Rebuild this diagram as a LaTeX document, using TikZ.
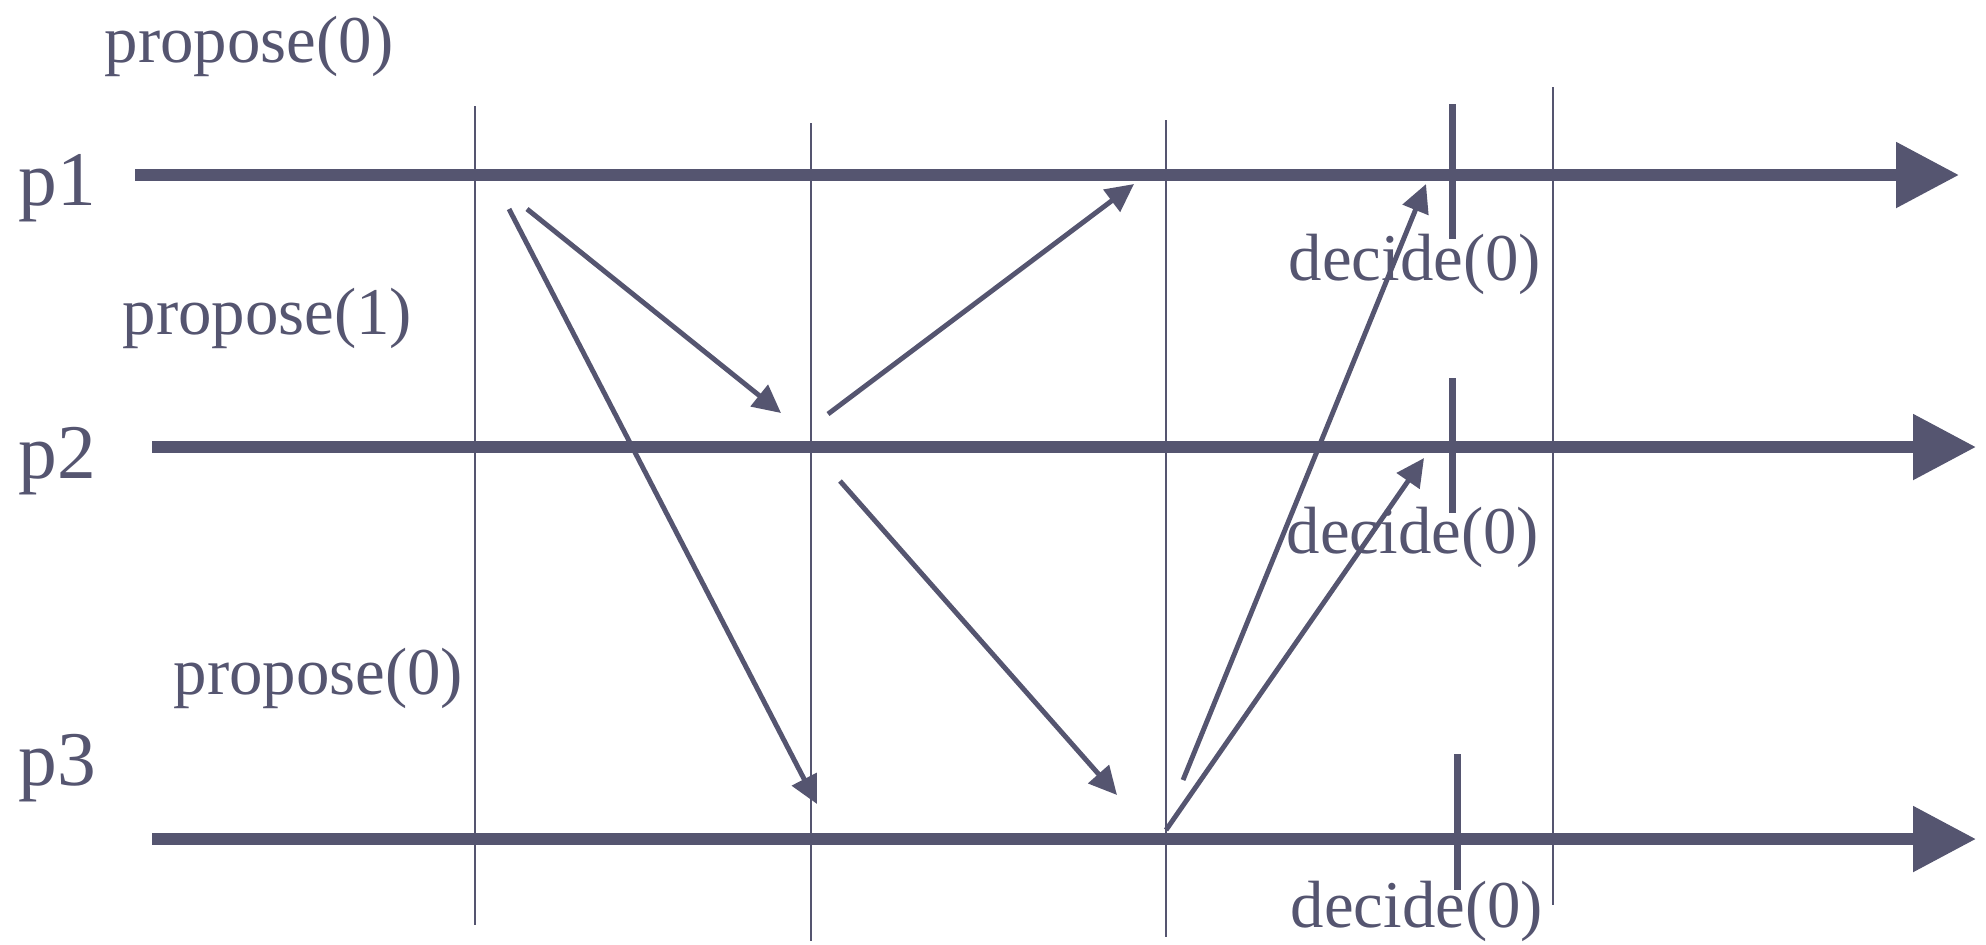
\documentclass[tikz,border=0pt]{standalone}
\usepackage{fontspec}
\setmainfont{Liberation Serif}
\usetikzlibrary{arrows.meta}
\definecolor{ink}{RGB}{85,85,112}

\begin{document}
\begin{tikzpicture}[x=0.01cm, y=-0.01cm, color=ink,
		every node/.style={inner sep=0pt, text=ink, font=\fontsize{22}{26}\selectfont},
		proc/.style={line width=3.4pt, -{Triangle[length=0.63cm, width=0.63cm]}},
		msg/.style={line width=1.4pt, -{Triangle[length=0.28cm, width=0.27cm]}},
		phase/.style={line width=0.6pt},
		dec/.style={line width=2pt},
		lbl/.style={anchor=base west, font=\fontsize{19}{23}\selectfont}]
	\useasboundingbox (0,0) rectangle (1986,944);
	
	% 进程时间轴
	\coordinate (s1) at (135,175);  \coordinate (e1) at (1959,175);
	\coordinate (s2) at (152,447);  \coordinate (e2) at (1976,447);
	\coordinate (s3) at (152,839);  \coordinate (e3) at (1976,839);
	\draw[proc] (s1) -- (e1);
	\draw[proc] (s2) -- (e2);
	\draw[proc] (s3) -- (e3);
	\node[anchor=base west] (p1) at (18,205) {p1};
	\node[anchor=base west] (p2) at (18,478) {p2};
	\node[anchor=base west] (p3) at (18,785) {p3};
	
	% 轮次分界线
	\coordinate (r1t) at (475,106);  \coordinate (r1b) at (475,925);
	\coordinate (r2t) at (811,123);  \coordinate (r2b) at (811,941);
	\coordinate (r3t) at (1166,120); \coordinate (r3b) at (1166,937);
	\coordinate (r4t) at (1553,87);  \coordinate (r4b) at (1553,905);
	\draw[phase] (r1t) -- (r1b);
	\draw[phase] (r2t) -- (r2b);
	\draw[phase] (r3t) -- (r3b);
	\draw[phase] (r4t) -- (r4b);
	
	% 提议
	\node[lbl] (prop1) at (104,62) {propose(0)};
	\node[lbl] (prop2) at (122,334) {propose(1)};
	\node[lbl] (prop3) at (173,694) {propose(0)};
	
	% 消息
	\coordinate (m1a) at (509,209);  \coordinate (m1b) at (817,804);
	\coordinate (m2a) at (527,209);  \coordinate (m2b) at (781,413);
	\coordinate (m3a) at (828,414);  \coordinate (m3b) at (1134,184);
	\coordinate (m4a) at (840,481);  \coordinate (m4b) at (1117,795);
	\coordinate (m5a) at (1183,780); \coordinate (m5b) at (1426,184);
	\coordinate (m6a) at (1166,830); \coordinate (m6b) at (1424,458);
	\draw[msg] (m1a) -- (m1b);
	\draw[msg] (m2a) -- (m2b);
	\draw[msg] (m3a) -- (m3b);
	\draw[msg] (m4a) -- (m4b);
	\draw[msg] (m5a) -- (m5b);
	\draw[msg] (m6a) -- (m6b);
	
	% 决定
	\coordinate (d1t) at (1452,104); \coordinate (d1b) at (1452,239);
	\coordinate (d2t) at (1452,378); \coordinate (d2b) at (1452,513);
	\coordinate (d3t) at (1457,754); \coordinate (d3b) at (1457,890);
	\draw[dec] (d1t) -- (d1b);
	\draw[dec] (d2t) -- (d2b);
	\draw[dec] (d3t) -- (d3b);
	\node[lbl] (dec1) at (1288,280) {decide(0)};
	\node[lbl] (dec2) at (1286,553) {decide(0)};
	\node[lbl] (dec3) at (1290,927) {decide(0)};
\end{tikzpicture}
\end{document}
